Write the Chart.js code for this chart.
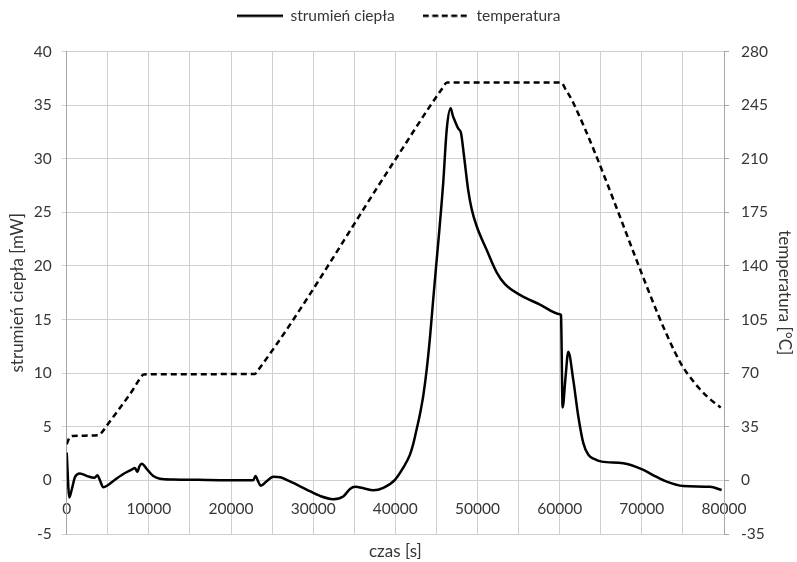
<!DOCTYPE html>
<html>
<head>
<meta charset="utf-8">
<script src="https://cdn.jsdelivr.net/npm/chart.js@4/dist/chart.umd.min.js"></script>
<style>
  html, body { margin: 0; padding: 0; background: #fff; }
  #wrap { position: relative; width: 797px; height: 562px; }
</style>
</head>
<body>
<div id="wrap"><canvas id="chart"></canvas></div>
<script>
// DSC-style run: heat flow (left axis) and programmed temperature (right axis) vs time.

const heatTime = [0, 320, 600, 1000, 1600, 2500, 3400, 3730, 4000, 4460, 5000, 5670, 6890, 7900, 8310, 8600, 8850, 9130, 9810, 10540, 11350, 13000, 16000, 20000, 22700, 22980, 23300, 23610, 24300, 25150, 26000, 27180, 29200, 30830, 32450, 33660, 34480, 35090, 36200, 37310, 38530, 39950, 40960, 41780, 42180, 42600, 43000, 43400, 43810, 44210, 44600, 45000, 45350, 45830, 46250, 46730, 47000, 47260, 47660, 47990, 48350, 48880, 49290, 49900, 51110, 52330, 53340, 55170, 57600, 60030, 60160, 60360, 60700, 61050, 61650, 62260, 62870, 63480, 64200, 65110, 67740, 70050, 71600, 73020, 75040, 78290, 79710];
const heatFlow = [2.6, -1.6, -0.9, 0.3, 0.65, 0.4, 0.25, 0.47, 0.1, -0.65, -0.45, -0.05, 0.6, 1.0, 1.15, 0.8, 1.3, 1.55, 1.0, 0.4, 0.15, 0.08, 0.05, 0.02, 0.02, 0.4, -0.1, -0.5, -0.1, 0.35, 0.3, -0.1, -0.85, -1.45, -1.75, -1.5, -0.8, -0.6, -0.75, -0.93, -0.7, 0.05, 1.18, 2.4, 3.4, 4.8, 6.2, 7.9, 10.3, 13.3, 16.8, 20.3, 23.3, 27.8, 32.7, 34.7, 34.0, 33.5, 32.8, 32.4, 30.3, 27.0, 25.3, 23.7, 21.5, 19.4, 18.3, 17.3, 16.4, 15.5, 15.4, 6.8, 9.5, 12.0, 9.4, 6.0, 3.5, 2.4, 2.0, 1.75, 1.6, 1.03, 0.4, -0.12, -0.53, -0.6, -0.9];

const tempTime = [0, 300, 700, 3900, 4300, 5000, 8100, 8800, 9400, 22900, 23300, 40000, 45600, 46300, 60200, 60700, 61650, 72000, 73000, 74000, 75000, 76000, 77000, 78000, 79000, 79600];
const tempVals = [23.5, 27.5, 29, 29.5, 31.5, 36.6, 59.5, 65.5, 69.2, 69.5, 72, 209.5, 255, 259.7, 259.7, 255.5, 246.6, 108, 95.5, 84, 74, 66.5, 60, 54.5, 50, 47.5];

const xTicks = { min: 0, max: 80000, grid: 5000, label: 10000 };
const leftTicks = { min: -5, max: 40, step: 5 };
const rightTicks = { min: -35, max: 280, step: 35 };

const TEXT = "#363636";
const GRID = "#cfcfcf";
const AXIS = "#a6a6a6";
const FONT = { family: "Lato, 'Open Sans', sans-serif", size: 15.5 };
const TITLE_FONT = { family: "Lato, 'Open Sans', sans-serif", size: 17 };

const toXY = (xs, ys) => xs.map((x, i) => ({ x, y: ys[i] }));

// small line swatches for the legend (solid / dashed)
function swatch(dash) {
  const c = document.createElement("canvas");
  c.width = 46;
  c.height = 4;
  const g = c.getContext("2d");
  g.strokeStyle = "#000";
  g.lineWidth = 2.5;
  g.setLineDash(dash);
  g.beginPath();
  g.moveTo(0, 2);
  g.lineTo(46, 2);
  g.stroke();
  return c;
}
const legendMarks = [swatch([]), swatch([6, 3.5])];

new Chart(document.getElementById("chart"), {
  type: "line",
  data: {
    datasets: [
      {
        label: "strumień ciepła",
        data: toXY(heatTime, heatFlow),
        xAxisID: "x",
        yAxisID: "y",
        borderColor: "#000",
        backgroundColor: "#000",
        borderWidth: 2.5,
        pointRadius: 0,
        cubicInterpolationMode: "monotone",
      },
      {
        label: "temperatura",
        data: toXY(tempTime, tempVals),
        xAxisID: "x",
        yAxisID: "y2",
        borderColor: "#000",
        backgroundColor: "#000",
        borderWidth: 2.5,
        borderDash: [6, 4],
        pointRadius: 0,
        cubicInterpolationMode: "monotone",
      },
    ],
  },
  options: {
    responsive: true,
    maintainAspectRatio: false,
    animation: false,
    layout: { padding: { top: -20 } },
    plugins: {
      legend: {
        position: "top",
        labels: {
          color: TEXT,
          font: FONT,
          usePointStyle: true,
          pointStyleWidth: 46,
          boxWidth: 46,
          padding: 28,
          generateLabels: (chart) =>
            Chart.defaults.plugins.legend.labels.generateLabels(chart)
              .map((l, i) => ({ ...l, pointStyle: legendMarks[i] })),
        },
      },
      // empty title used only as a spacer between legend and plot
      title: { display: true, text: "", position: "top", weight: 0, font: { size: 10 }, padding: { top: 3, bottom: 3 } },
      tooltip: { enabled: false },
    },
    scales: {
      x: {
        type: "linear",
        position: "bottom",
        min: xTicks.min,
        max: xTicks.max,
        ticks: { display: false, stepSize: xTicks.grid },
        grid: { color: GRID, drawTicks: false },
        border: { color: GRID },
        title: { display: true, text: "czas [s]", color: TEXT, font: TITLE_FONT, padding: { top: 0, bottom: 0 } },
        afterFit: (s) => { s.height = 28; },
      },
      xLabels: {
        type: "linear",
        position: { y: 0 },
        min: xTicks.min,
        max: xTicks.max,
        ticks: { stepSize: xTicks.label, color: TEXT, font: FONT, padding: 19, maxRotation: 0, callback: (v) => String(v) },
        grid: { display: false, drawTicks: false },
        border: { display: false },
      },
      y: {
        position: "left",
        min: leftTicks.min,
        max: leftTicks.max,
        ticks: { stepSize: leftTicks.step, color: TEXT, font: FONT, padding: 10 },
        grid: { color: GRID, tickLength: 5 },
        border: { color: AXIS },
        title: { display: true, text: "strumień ciepła [mW]", color: TEXT, font: TITLE_FONT, padding: { top: 7, bottom: 0 } },
        afterFit: (s) => { s.width = 66.7; },
      },
      y2: {
        position: "right",
        min: rightTicks.min,
        max: rightTicks.max,
        ticks: { stepSize: rightTicks.step, color: TEXT, font: FONT, padding: 12 },
        grid: { drawOnChartArea: false, color: AXIS, tickLength: 5 },
        border: { color: AXIS },
        title: { display: true, text: "temperatura [°C]", color: TEXT, font: TITLE_FONT, padding: { top: 2, bottom: 0 } },
        afterFit: (s) => { s.width = 73; },
      },
    },
  },
});
</script>
</body>
</html>
